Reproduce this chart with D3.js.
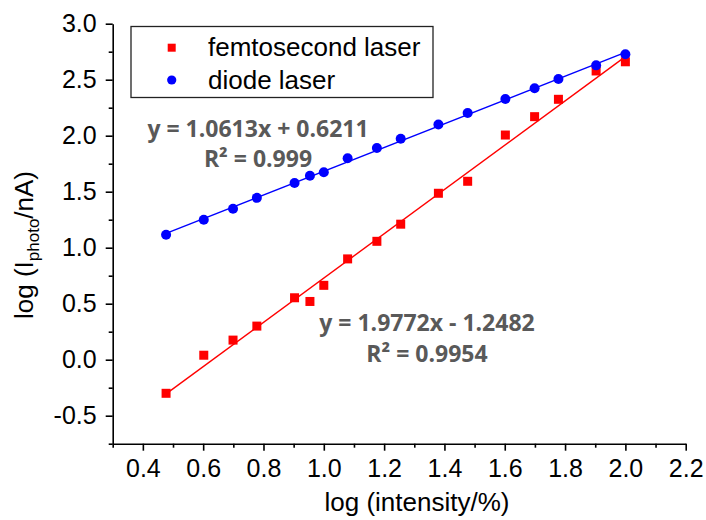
<!DOCTYPE html>
<html>
<head>
<meta charset="utf-8">
<script src="https://cdn.jsdelivr.net/npm/d3@7"></script>
<style>
  html, body { margin: 0; padding: 0; background: #fff; }
  svg { display: block; }
  .axis text { font-family: "Liberation Sans", Arial, sans-serif; font-size: 25px; fill: #000; }
  .axis path, .axis line { stroke: #000; stroke-width: 1.6; }
  .title { font-family: "Liberation Sans", Arial, sans-serif; font-size: 26px; fill: #000; }
  .legend text { font-family: "Liberation Sans", Arial, sans-serif; font-size: 26px; fill: #000; }
  .eq { font-family: "Open Sans", "Lato", sans-serif; font-weight: 700; font-size: 23px; fill: #595959; }
</style>
</head>
<body>
<svg id="chart" width="706" height="520"></svg>
<script>
// log10 of the relative laser intensity (3 % ... 100 %)
const logIntensity = [0.477, 0.602, 0.699, 0.778, 0.903, 0.954, 1.000, 1.079, 1.176,
                      1.255, 1.380, 1.477, 1.602, 1.699, 1.778, 1.903, 2.000];
// log10 of the photocurrent in nA
const femtosecondLog = [-0.300, 0.040, 0.175, 0.300, 0.553, 0.520, 0.664, 0.900, 1.057,
                        1.210, 1.486, 1.593, 2.006, 2.170, 2.325, 2.578, 2.660];
const diodeLog = [1.116, 1.250, 1.348, 1.445, 1.578, 1.643, 1.673, 1.798, 1.890,
                  1.973, 2.100, 2.203, 2.328, 2.423, 2.506, 2.628, 2.727];

const seriesNames = ["femtosecond laser", "diode laser"];
const seriesColors = ["#ff0000", "#0000ff"];

// linear fits: slope, intercept, R²
const fitSlopes = [1.9772, 1.0613];
const fitIntercepts = [-1.2482, 0.6211];
const fitR2 = ["0.9954", "0.999"];

const xTicks = [0.4, 0.6, 0.8, 1.0, 1.2, 1.4, 1.6, 1.8, 2.0, 2.2];
const xMinorTicks = [0.3, 0.5, 0.7, 0.9, 1.1, 1.3, 1.5, 1.7, 1.9, 2.1];
const yTicks = [-0.5, 0.0, 0.5, 1.0, 1.5, 2.0, 2.5, 3.0];
const yMinorTicks = [-0.75, -0.25, 0.25, 0.75, 1.25, 1.75, 2.25, 2.75];

const svg = d3.select("#chart");
const plot = { left: 112.7, right: 685.7, top: 23.7, bottom: 443.7 };

const x = d3.scaleLinear().domain([0.3, 2.2]).range([plot.left, plot.right]);
const y = d3.scaleLinear().domain([-0.75, 3.0]).range([plot.bottom, plot.top]);

// minor ticks
svg.append("g").attr("class", "axis")
  .attr("transform", `translate(0,${plot.bottom})`)
  .call(d3.axisBottom(x).tickValues(xMinorTicks).tickSize(4).tickSizeOuter(0).tickFormat(""))
  .call(g => g.select(".domain").remove());
svg.append("g").attr("class", "axis")
  .attr("transform", `translate(${plot.left},0)`)
  .call(d3.axisLeft(y).tickValues(yMinorTicks).tickSize(4).tickSizeOuter(0).tickFormat(""))
  .call(g => g.select(".domain").remove());

// major ticks with labels
svg.append("g").attr("class", "axis")
  .attr("transform", `translate(0,${plot.bottom})`)
  .call(d3.axisBottom(x).tickValues(xTicks).tickSize(7).tickSizeOuter(0).tickPadding(9)
        .tickFormat(d => d.toFixed(1)));
svg.append("g").attr("class", "axis")
  .attr("transform", `translate(${plot.left},0)`)
  .call(d3.axisLeft(y).tickValues(yTicks).tickSize(7).tickSizeOuter(0).tickPadding(9)
        .tickFormat(d => d.toFixed(1)));

// axis titles
svg.append("text").attr("class", "title")
  .attr("x", 417).attr("y", 511).attr("text-anchor", "middle")
  .text("log (intensity/%)");

const yTitle = svg.append("text").attr("class", "title")
  .attr("transform", "translate(33,245) rotate(-90)")
  .attr("text-anchor", "middle");
yTitle.append("tspan").text("log (I");
yTitle.append("tspan").attr("font-size", "17px").attr("dy", 6).text("photo");
yTitle.append("tspan").attr("dy", -6).text("/nA)");

// fitted lines
const xFitRange = d3.extent(logIntensity);
const line = d3.line().x(d => x(d[0])).y(d => y(d[1]));
fitSlopes.forEach((m, i) => {
  const pts = xFitRange.map(v => [v, m * v + fitIntercepts[i]]);
  svg.append("path").attr("d", line(pts))
    .attr("fill", "none").attr("stroke", seriesColors[i]).attr("stroke-width", 1.4);
});

// data markers
const sq = 9;
svg.append("g").selectAll("rect")
  .data(logIntensity.map((v, i) => [v, femtosecondLog[i]]))
  .join("rect")
  .attr("x", d => x(d[0]) - sq / 2).attr("y", d => y(d[1]) - sq / 2)
  .attr("width", sq).attr("height", sq).attr("fill", seriesColors[0]);

svg.append("g").selectAll("circle")
  .data(logIntensity.map((v, i) => [v, diodeLog[i]]))
  .join("circle")
  .attr("cx", d => x(d[0])).attr("cy", d => y(d[1]))
  .attr("r", 5).attr("fill", seriesColors[1]);

// legend
const legend = svg.append("g").attr("class", "legend");
legend.append("rect").attr("x", 131).attr("y", 26.5).attr("width", 302).attr("height", 71)
  .attr("fill", "#fff").attr("stroke", "#222").attr("stroke-width", 1.3);
legend.append("rect").attr("x", 171.7 - 4).attr("y", 47.7 - 4).attr("width", 8).attr("height", 8)
  .attr("fill", seriesColors[0]);
legend.append("circle").attr("cx", 171.7).attr("cy", 80).attr("r", 4.6).attr("fill", seriesColors[1]);
legend.append("text").attr("x", 208).attr("y", 56).text(seriesNames[0]);
legend.append("text").attr("x", 208).attr("y", 88.5).text(seriesNames[1]);

// fit equations
const fmtEq = i => `y = ${fitSlopes[i]}x ${fitIntercepts[i] < 0 ? "-" : "+"} ${Math.abs(fitIntercepts[i])}`;
const eqPos = [{ cx: 427, y1: 331, y2: 361.5 }, { cx: 258, y1: 137, y2: 167 }];
eqPos.forEach((p, i) => {
  svg.append("text").attr("class", "eq").attr("x", p.cx).attr("y", p.y1)
    .attr("text-anchor", "middle").text(fmtEq(i));
  svg.append("text").attr("class", "eq").attr("x", p.cx).attr("y", p.y2)
    .attr("text-anchor", "middle").text(`R² = ${fitR2[i]}`);
});
</script>
</body>
</html>
